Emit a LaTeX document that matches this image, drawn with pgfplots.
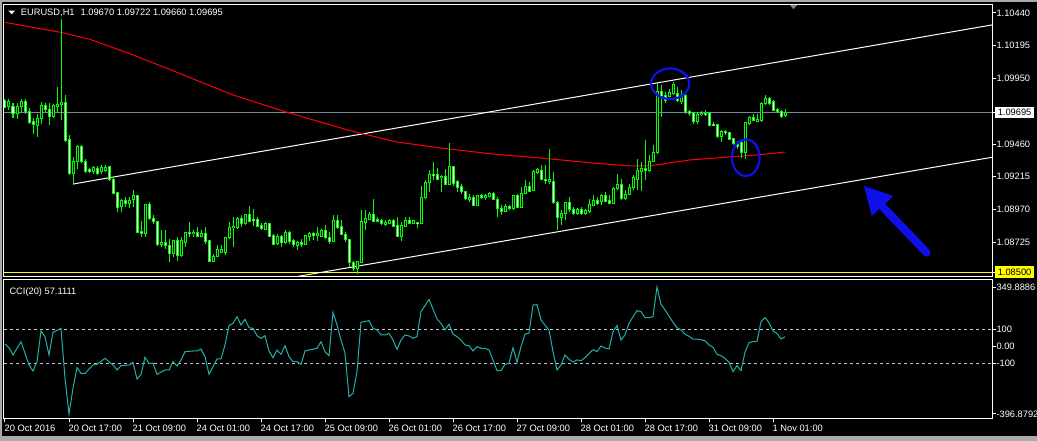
\documentclass[border=0pt]{standalone}
\usepackage{fontspec}
\setmainfont{Liberation Sans}
\usepackage{pgfplots}
\usepackage{pgfplotstable}
\pgfplotsset{compat=1.18}
\definecolor{cgreen}{RGB}{0,255,0}
\definecolor{cma}{RGB}{255,0,0}
\definecolor{ccci}{RGB}{32,178,170}
\definecolor{cbid}{RGB}{119,136,153}
\definecolor{cblue}{RGB}{15,15,235}
\definecolor{clevel}{RGB}{200,200,200}
\definecolor{cwin}{RGB}{170,170,170}
\definecolor{cyel}{RGB}{255,255,0}

\pgfplotstableread{
x o h l c
0 1.09788 1.09800 1.09726 1.09733
1 1.09738 1.09800 1.09718 1.09776
2 1.09743 1.09763 1.09656 1.09688
3 1.09688 1.09768 1.09646 1.09743
4 1.09738 1.09796 1.09701 1.09781
5 1.09781 1.09796 1.09688 1.09701
6 1.09701 1.09726 1.09613 1.09618
7 1.09626 1.09651 1.09538 1.09606
8 1.09601 1.09688 1.09513 1.09651
9 1.09651 1.09776 1.09613 1.09751
10 1.09751 1.09768 1.09696 1.09718
11 1.09718 1.09763 1.09601 1.09663
12 1.09668 1.09758 1.09651 1.09751
13 1.09743 1.09883 1.09701 1.09758
14 1.09756 1.10396 1.09638 1.09771
15 1.09771 1.09826 1.09476 1.09483
16 1.09493 1.09526 1.09231 1.09238
17 1.09238 1.09363 1.09151 1.09331
18 1.09326 1.09451 1.09276 1.09443
19 1.09443 1.09456 1.09318 1.09326
20 1.09331 1.09346 1.09246 1.09256
21 1.09268 1.09283 1.09243 1.09251
22 1.09251 1.09293 1.09233 1.09283
23 1.09276 1.09293 1.09231 1.09238
24 1.09251 1.09301 1.09238 1.09281
25 1.09263 1.09301 1.09251 1.09283
26 1.09293 1.09293 1.09181 1.09193
27 1.09196 1.09213 1.09088 1.09093
28 1.09096 1.09096 1.08951 1.08988
29 1.08993 1.09051 1.08951 1.09038
30 1.09038 1.09063 1.08988 1.09018
31 1.09018 1.09063 1.08981 1.09038
32 1.09043 1.09113 1.08988 1.09076
33 1.09076 1.09076 1.08801 1.08801
34 1.08806 1.08881 1.08763 1.08788
35 1.08793 1.09006 1.08768 1.09006
36 1.09006 1.09026 1.08893 1.08901
37 1.08906 1.08931 1.08863 1.08881
38 1.08881 1.08881 1.08696 1.08708
39 1.08706 1.08813 1.08688 1.08726
40 1.08721 1.08818 1.08676 1.08701
41 1.08701 1.08751 1.08576 1.08643
42 1.08643 1.08738 1.08613 1.08738
43 1.08738 1.08763 1.08588 1.08626
44 1.08626 1.08763 1.08613 1.08738
45 1.08726 1.08801 1.08688 1.08796
46 1.08796 1.08876 1.08763 1.08788
47 1.08788 1.08813 1.08763 1.08801
48 1.08796 1.08838 1.08763 1.08771
49 1.08768 1.08813 1.08763 1.08793
50 1.08793 1.08838 1.08713 1.08733
51 1.08738 1.08738 1.08576 1.08583
52 1.08583 1.08638 1.08576 1.08618
53 1.08618 1.08701 1.08613 1.08668
54 1.08651 1.08708 1.08643 1.08671
55 1.08651 1.08763 1.08626 1.08763
56 1.08758 1.08876 1.08751 1.08838
57 1.08833 1.08913 1.08688 1.08846
58 1.08838 1.08913 1.08826 1.08906
59 1.08906 1.08926 1.08838 1.08863
60 1.08863 1.08938 1.08851 1.08933
61 1.08933 1.08993 1.08876 1.08883
62 1.08896 1.08976 1.08846 1.08888
63 1.08893 1.08913 1.08838 1.08843
64 1.08851 1.08868 1.08813 1.08826
65 1.08821 1.08876 1.08813 1.08863
66 1.08863 1.08863 1.08768 1.08771
67 1.08776 1.08788 1.08701 1.08708
68 1.08713 1.08788 1.08701 1.08771
69 1.08768 1.08783 1.08688 1.08726
70 1.08721 1.08813 1.08713 1.08801
71 1.08796 1.08806 1.08713 1.08733
72 1.08738 1.08751 1.08693 1.08706
73 1.08701 1.08738 1.08668 1.08726
74 1.08726 1.08751 1.08688 1.08706
75 1.08706 1.08783 1.08701 1.08776
76 1.08771 1.08801 1.08738 1.08788
77 1.08788 1.08801 1.08743 1.08776
78 1.08776 1.08838 1.08733 1.08788
79 1.08771 1.08826 1.08763 1.08813
80 1.08813 1.08851 1.08751 1.08758
81 1.08758 1.08801 1.08713 1.08733
82 1.08733 1.08926 1.08726 1.08888
83 1.08888 1.08926 1.08826 1.08838
84 1.08843 1.08888 1.08776 1.08781
85 1.08783 1.08801 1.08726 1.08743
86 1.08743 1.08743 1.08538 1.08576
87 1.08576 1.08588 1.08513 1.08526
88 1.08526 1.08588 1.08488 1.08581
89 1.08576 1.08963 1.08576 1.08878
90 1.08876 1.08963 1.08813 1.08906
91 1.08893 1.08951 1.08888 1.08931
92 1.08931 1.09046 1.08876 1.08883
93 1.08893 1.08913 1.08876 1.08883
94 1.08888 1.08901 1.08851 1.08863
95 1.08858 1.08888 1.08848 1.08876
96 1.08868 1.08901 1.08863 1.08888
97 1.08888 1.08901 1.08838 1.08843
98 1.08851 1.08913 1.08763 1.08771
99 1.08771 1.08876 1.08731 1.08851
100 1.08846 1.08913 1.08838 1.08888
101 1.08888 1.08913 1.08858 1.08868
102 1.08863 1.08893 1.08858 1.08888
103 1.08871 1.08871 1.08833 1.08863
104 1.08868 1.09143 1.08863 1.09058
105 1.09058 1.09188 1.09051 1.09171
106 1.09171 1.09263 1.09101 1.09233
107 1.09233 1.09326 1.09188 1.09226
108 1.09233 1.09283 1.09188 1.09196
109 1.09208 1.09226 1.09101 1.09218
110 1.09218 1.09276 1.09151 1.09158
111 1.09158 1.09468 1.09151 1.09293
112 1.09293 1.09293 1.09143 1.09163
113 1.09183 1.09188 1.09101 1.09138
114 1.09143 1.09163 1.09088 1.09101
115 1.09106 1.09106 1.09038 1.09051
116 1.09046 1.09088 1.09026 1.09063
117 1.09063 1.09076 1.08993 1.09001
118 1.09001 1.09076 1.09001 1.09076
119 1.09076 1.09088 1.09051 1.09058
120 1.09058 1.09088 1.09038 1.09076
121 1.09071 1.09101 1.09063 1.09088
122 1.09088 1.09101 1.09038 1.09043
123 1.09046 1.09063 1.08913 1.08976
124 1.08981 1.09001 1.08926 1.08958
125 1.08958 1.09013 1.08951 1.08993
126 1.08993 1.09001 1.08963 1.08976
127 1.08976 1.09076 1.08963 1.09076
128 1.09076 1.09088 1.08983 1.08988
129 1.08988 1.09138 1.08983 1.09088
130 1.09088 1.09188 1.09083 1.09143
131 1.09143 1.09176 1.09101 1.09108
132 1.09113 1.09263 1.09108 1.09251
133 1.09246 1.09283 1.09238 1.09271
134 1.09263 1.09301 1.09188 1.09193
135 1.09196 1.09301 1.09163 1.09188
136 1.09176 1.09421 1.09163 1.09196
137 1.09181 1.09251 1.09013 1.09026
138 1.09026 1.09031 1.08813 1.08908
139 1.08908 1.08963 1.08851 1.08938
140 1.08938 1.09026 1.08888 1.09021
141 1.09021 1.09063 1.08951 1.08971
142 1.08971 1.08988 1.08926 1.08938
143 1.08938 1.08983 1.08926 1.08971
144 1.08968 1.08988 1.08926 1.08938
145 1.08938 1.08976 1.08926 1.08963
146 1.08956 1.09051 1.08943 1.09008
147 1.09001 1.09076 1.08993 1.09038
148 1.09038 1.09063 1.09001 1.09018
149 1.09033 1.09088 1.09001 1.09076
150 1.09076 1.09101 1.09026 1.09033
151 1.09038 1.09076 1.09013 1.09018
152 1.09018 1.09138 1.09013 1.09126
153 1.09126 1.09238 1.09113 1.09156
154 1.09156 1.09201 1.09038 1.09051
155 1.09051 1.09113 1.09038 1.09081
156 1.09081 1.09163 1.09076 1.09138
157 1.09131 1.09226 1.09113 1.09208
158 1.09196 1.09351 1.09113 1.09263
159 1.09258 1.09326 1.09108 1.09276
160 1.09276 1.09493 1.09188 1.09263
161 1.09263 1.09376 1.09251 1.09331
162 1.09331 1.09451 1.09326 1.09393
163 1.09393 1.09913 1.09388 1.09851
164 1.09851 1.09901 1.09663 1.09818
165 1.09826 1.09851 1.09763 1.09788
166 1.09818 1.09871 1.09808 1.09846
167 1.09838 1.09926 1.09826 1.09906
168 1.09838 1.09888 1.09776 1.09783
169 1.09776 1.09863 1.09758 1.09826
170 1.09826 1.09838 1.09688 1.09701
171 1.09706 1.09713 1.09668 1.09688
172 1.09693 1.09701 1.09613 1.09626
173 1.09626 1.09701 1.09613 1.09683
174 1.09678 1.09708 1.09668 1.09688
175 1.09688 1.09713 1.09668 1.09678
176 1.09693 1.09696 1.09593 1.09601
177 1.09606 1.09626 1.09593 1.09598
178 1.09606 1.09613 1.09506 1.09513
179 1.09513 1.09568 1.09476 1.09551
180 1.09551 1.09563 1.09526 1.09543
181 1.09546 1.09551 1.09488 1.09496
182 1.09501 1.09508 1.09451 1.09463
183 1.09463 1.09481 1.09426 1.09438
184 1.09468 1.09488 1.09358 1.09393
185 1.09393 1.09626 1.09351 1.09618
186 1.09613 1.09668 1.09601 1.09658
187 1.09658 1.09688 1.09633 1.09638
188 1.09626 1.09688 1.09626 1.09643
189 1.09638 1.09776 1.09626 1.09763
190 1.09763 1.09826 1.09751 1.09801
191 1.09801 1.09813 1.09751 1.09763
192 1.09776 1.09788 1.09708 1.09713
193 1.09718 1.09726 1.09693 1.09701
194 1.09706 1.09713 1.09651 1.09663
195 1.09670 1.09722 1.09660 1.09695
}\candles

\pgfplotstableread{
x v
0 14.7
1 -6.9
2 -50
4 28.4
6 -108.8
7 -144.1
8 -89.2
9 91.2
10 57.8
11 -50
12 83.3
14 106.9
15 -187.3
16 -396.8792
17 -246.1
18 -124.5
19 -157.8
20 -157.8
22 -108.8
23 -104.9
25 -69.6
27 -108.8
28 -138.2
29 -112.7
31 -108.8
32 -93.1
33 -191.2
34 -163.7
35 -63.7
36 -99
37 -99
38 -163.7
40 -138.2
41 -138.2
42 -89.2
43 -114.7
44 -79.4
45 -30.4
47 -26.5
48 -26.5
49 -14.7
50 -59.8
51 -163.7
52 -118.6
53 -73.5
54 -73.5
55 8.8
56 122.5
57 136.3
58 175.5
59 126.5
60 159.8
61 110.8
62 106.9
63 63.7
64 48
65 63.7
66 -26.5
67 -65.7
68 -20.6
69 -46.1
70 4.9
71 -59.8
72 -89.2
73 -89.2
74 -104.9
75 -26.5
76 -20.6
78 -10.8
79 28.4
80 -30.4
81 -53.9
82 201
83 126.5
84 38.2
85 -40.2
86 -295.1
87 -275.5
88 -148
89 142.2
91 152
92 106.9
93 97.1
94 67.6
95 67.6
96 77.5
97 38.2
98 -16.7
99 38.2
100 67.6
101 61.8
102 48
103 57.8
104 204.9
106 277.5
107 220.6
108 161.8
109 136.3
110 97.1
111 130.4
112 73.5
113 57.8
114 38.2
115 8.8
116 4.9
117 -26.5
118 -1
119 -10.8
120 -10.8
121 -20.6
122 -79.4
123 -142.2
124 -142.2
125 -104.9
126 -99
127 -6.9
128 -93
129 -1
130 72
131 79
132 244
133 246
134 156
135 126
136 97
137 -30
138 -138
139 -109
140 -50
141 -75
142 -91
143 -79
144 -83
145 -66
146 -42
147 -19
148 -30
149 3
150 -9
151 -15
152 87
153 123
154 38
155 68
156 136
157 175
158 211
159 205
160 170
161 170
162 175
163 349.8886
164 248
165 215
166 179
167 142
168 111
169 97
170 72
171 60
172 44
173 44
174 40
175 34
176 9
177 -5
178 -46
179 -54
180 -70
181 -93
182 -148
183 -113
184 -142
185 -34
186 23
187 28
188 30
189 146
190 170
191 140
192 91
193 77
194 44
195 57.1111
}\cci

\pgfplotsset{
  mtaxis/.style={
    scale only axis, anchor=south west, width=988.3pt,
    xmin=-0.25, xmax=246.825,
    axis line style={white, line width=1pt},
    tick align=outside, major tick length=4pt,
    every tick/.style={white, line width=1pt},
    ytick pos=right, yticklabel pos=right,
    every tick label/.append style={font=\fontsize{9.3}{11}\selectfont, text=white},
    yticklabel style={anchor=west, inner sep=0pt},
    clip mode=individual,
  }
}

\begin{document}
\begin{tikzpicture}[font=\fontsize{9.3}{11}\selectfont]
\fill[black] (0,0) rectangle (1037pt,441pt);
\useasboundingbox (0,0) rectangle (1037pt,441pt);
\fill[cwin] (0,439pt) rectangle (1037pt,441pt);
\fill[cwin] (0,0) rectangle (1037pt,5pt);
\fill[cwin] (0,0) rectangle (1.5pt,441pt);

\begin{axis}[mtaxis,
  at={(4pt,164pt)}, height=272.7pt,
  ymin=1.084652, ymax=1.10505,
  xtick=\empty,
  ytick={1.08725,1.08970,1.09215,1.09460,1.09950,1.10195,1.10440},
  yticklabels={1.08725,1.08970,1.09215,1.09460,1.09950,1.10195,1.10440},
  extra y ticks={1.09695,1.085}, extra y tick labels={},
  yticklabel style={xshift=0pt},
]
\addplot[cbid, line width=1pt] coordinates {(-0.25,1.09695) (246.825,1.09695)};
\addplot[cyel, line width=1pt] coordinates {(-0.25,1.085) (246.825,1.085)};
\addplot[white, line width=1pt] coordinates {(17.075,1.09161) (246.825,1.10351)};
\addplot[white, line width=1pt] coordinates {(60,1.08402) (246.825,1.09361)};
\addplot[cma, line width=1pt] coordinates {(0,1.10370) (13.75,1.10296) (21.25,1.10243) (32,1.10126) (40.5,1.10026) (48.75,1.09926) (57,1.09827) (70,1.09702) (86.25,1.09560) (98,1.09475) (109,1.09430) (122,1.09385) (134,1.09355) (147,1.09318) (156,1.09296) (161,1.09296) (171,1.09340) (181,1.09363) (188,1.09378) (195,1.09400)};
% wicks
\addplot[cgreen, line width=1pt, quiver={u=0, v=\thisrow{h}-\thisrow{l}}] table[x=x, y=l] {\candles};
% bodies
\addplot[cgreen, line width=3pt, quiver={u=0, v=\thisrow{c}-\thisrow{o},
   every arrow/.append style={shorten <=-0.5pt, shorten >=-0.5pt}}] table[x=x, y=o] {\candles};
% bear cores
\addplot[white, line width=1pt, unbounded coords=discard,
   x filter/.expression={\thisrow{c}<\thisrow{o} ? x : nan},
   quiver={u=0, v=\thisrow{c}-\thisrow{o},
   every arrow/.append style={shorten <=0.5pt, shorten >=0.5pt}}] table[x=x, y=o] {\candles};
% bull cores
\addplot[black, line width=1pt, unbounded coords=discard,
   x filter/.expression={\thisrow{c}>\thisrow{o} ? x : nan},
   quiver={u=0, v=\thisrow{c}-\thisrow{o},
   every arrow/.append style={shorten <=0.5pt, shorten >=0.5pt}}] table[x=x, y=o] {\candles};
% annotations
\draw[cblue, line width=2.2pt] (axis cs:166.3,1.09911) ellipse [x radius=19pt, y radius=15.3pt];
\draw[cblue, line width=2.2pt] (axis cs:185.2,1.09358) ellipse [x radius=13.8pt, y radius=18.3pt];
\draw[cblue, line width=8pt, line cap=round] (axis cs:230.4,1.08647) -- (axis cs:218.75,1.09011);
\fill[cblue] (axis cs:214.75,1.09146) -- (axis cs:216.675,1.08922) -- (axis cs:222.075,1.09071) -- cycle;
\node[fill=white, text=black, inner xsep=2.6pt, inner ysep=2.6pt, anchor=west, xshift=2.7pt] at (axis cs:246.825,1.09695) {1.09695};
\node[fill=cyel, text=black, inner xsep=2.6pt, inner ysep=2.6pt, anchor=west, xshift=2.7pt] at (axis cs:246.825,1.085) {1.08500};
\end{axis}

\begin{axis}[mtaxis,
  at={(4pt,22.7pt)}, height=138.8pt,
  ymin=-422.4, ymax=394.1,
  xtick={0,16,32,48,64,80,96,112,128,144,160,176,192},
  xticklabels={20 Oct 2016,20 Oct 17:00,21 Oct 09:00,24 Oct 01:00,24 Oct 17:00,25 Oct 09:00,26 Oct 01:00,26 Oct 17:00,27 Oct 09:00,28 Oct 01:00,28 Oct 17:00,31 Oct 09:00,1 Nov 01:00},
  xtick pos=bottom,
  xticklabel style={anchor=base west, inner sep=0pt, yshift=-9pt, xshift=-0.5pt},
  ytick={-396.8792,-100,0,100,349.8886},
  yticklabels={-396.8792,-100,0.00,100,349.8886},
]
\addplot[clevel, line width=1pt, dash pattern=on 3pt off 3pt] coordinates {(-0.25,100) (246.825,100)};
\addplot[clevel, line width=1pt, dash pattern=on 3pt off 3pt] coordinates {(-0.25,-100) (246.825,-100)};
\addplot[ccci, line width=1pt] table[x=x, y=v] {\cci};
\end{axis}

% labels
\fill[white] (8.3pt,430.3pt) -- (15pt,430.3pt) -- (11.65pt,426.8pt) -- cycle;
\node[anchor=base west, inner sep=0pt, text=white] at (20.7pt,425pt) {EURUSD,H1\hspace{6pt}1.09670 1.09722 1.09660 1.09695};
\node[anchor=base west, inner sep=0pt, text=white] at (9.3pt,146.7pt) {CCI(20) 57.1111};
\fill[gray] (790pt,436pt) -- (797pt,436pt) -- (793.5pt,431.8pt) -- cycle;
\end{tikzpicture}
\end{document}
